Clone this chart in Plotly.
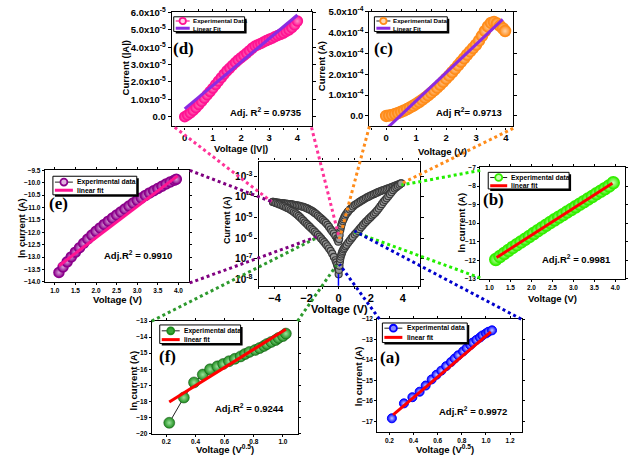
import plotly.graph_objects as go

W, H = 628, 461
SANS = "Liberation Sans, Arial, sans-serif"
SERIF = "Liberation Serif, Times New Roman, serif"

# ---------------- data ----------------
# (d) |I| vs |V|, linear scale
d_volt = [0.0, 0.1, 0.2, 0.3, 0.4, 0.5, 0.6, 0.7, 0.8, 0.9, 1.0, 1.1, 1.2, 1.3, 1.4, 1.5,
          1.6, 1.7, 1.8, 1.9, 2.0, 2.1, 2.2, 2.3, 2.4, 2.5, 2.6, 2.7, 2.8, 2.9, 3.0, 3.1,
          3.2, 3.3, 3.4, 3.5, 3.6, 3.7, 3.8, 3.9, 4.0]
d_curr_e5 = [0.00, 0.10, 0.22, 0.36, 0.52, 0.70, 0.88, 1.07, 1.26, 1.45, 1.64, 1.85, 2.05,
             2.25, 2.45, 2.64, 2.80, 2.96, 3.12, 3.27, 3.40, 3.53, 3.66, 3.80, 3.95, 4.07,
             4.14, 4.22, 4.30, 4.38, 4.45, 4.52, 4.60, 4.67, 4.74, 4.81, 4.90, 5.00, 5.12,
             5.28, 5.50]
d_fit_volt = [0.0, 4.0]
d_fit_e5 = [0.45, 5.85]

# (c) I vs V, linear scale
c_volt = [0.0, 0.1, 0.2, 0.3, 0.4, 0.5, 0.6, 0.7, 0.8, 0.9, 1.0, 1.1, 1.2, 1.3, 1.4, 1.5,
          1.6, 1.7, 1.8, 1.9, 2.0, 2.1, 2.2, 2.3, 2.4, 2.5, 2.6, 2.7, 2.8, 2.9, 3.0, 3.1,
          3.2, 3.3, 3.4, 3.5, 3.6, 3.7, 3.8, 3.9, 3.97]
c_curr_e4 = [0.00, 0.02, 0.05, 0.09, 0.14, 0.20, 0.26, 0.33, 0.41, 0.49, 0.58, 0.67, 0.77,
             0.88, 0.99, 1.11, 1.23, 1.36, 1.50, 1.64, 1.79, 1.94, 2.10, 2.26, 2.43, 2.60,
             2.77, 2.94, 3.10, 3.26, 3.42, 3.62, 3.85, 4.08, 4.30, 4.47, 4.52, 4.44, 4.33,
             4.20, 4.08]
c_fit_volt = [0.06, 3.89]
c_fit_e4 = [-0.55, 4.64]

# (e) ln I vs V
e_volt = [1.1, 1.2, 1.3, 1.4, 1.5, 1.6, 1.7, 1.8, 1.9, 2.0, 2.1, 2.2, 2.3, 2.4, 2.5, 2.6,
          2.7, 2.8, 2.9, 3.0, 3.1, 3.2, 3.3, 3.4, 3.5, 3.6, 3.7, 3.8, 3.9, 3.95]
e_lnI = [-13.62, -13.40, -13.19, -12.99, -12.80, -12.62, -12.44, -12.27, -12.11, -11.96,
         -11.82, -11.68, -11.55, -11.42, -11.30, -11.18, -11.06, -10.94, -10.82, -10.71,
         -10.61, -10.51, -10.41, -10.32, -10.23, -10.14, -10.05, -9.97, -9.90, -9.86]
e_fit_volt = [1.1, 3.98]
e_fit_lnI = [-13.35, -9.72]

# (b) ln I vs V
b_volt = [1.15, 1.25, 1.35, 1.45, 1.55, 1.65, 1.75, 1.85, 1.95, 2.05, 2.15, 2.25, 2.35,
          2.45, 2.55, 2.65, 2.75, 2.85, 2.95, 3.05, 3.15, 3.25, 3.35, 3.45, 3.55, 3.65,
          3.75, 3.85, 3.95]
b_lnI = [-11.95, -11.79, -11.63, -11.47, -11.31, -11.16, -11.01, -10.86, -10.71, -10.56,
         -10.41, -10.26, -10.11, -9.96, -9.82, -9.68, -9.54, -9.40, -9.26, -9.12, -8.98,
         -8.84, -8.70, -8.56, -8.42, -8.28, -8.14, -8.00, -7.82]
b_fit_volt = [1.17, 3.93]
b_fit_lnI = [-11.85, -7.85]

# (f) ln I vs V^0.5
f_sqrtv = [0.22, 0.32, 0.39, 0.45, 0.50, 0.55, 0.59, 0.63, 0.67, 0.71, 0.74, 0.77, 0.81,
           0.84, 0.87, 0.89, 0.92, 0.95, 0.97, 1.00, 1.02]
f_lnI = [-19.33, -17.76, -16.82, -16.33, -16.00, -15.82, -15.67, -15.50, -15.35, -15.20,
         -15.05, -14.92, -14.80, -14.68, -14.55, -14.43, -14.30, -14.18, -14.05, -13.93,
         -13.78]
f_fit_sqrtv = [0.22, 1.02]
f_fit_lnI = [-18.04, -13.51]

# (a) ln I vs V^0.5
a_sqrtv = [0.22, 0.32, 0.39, 0.45, 0.50, 0.55, 0.59, 0.63, 0.67, 0.71, 0.74, 0.77, 0.81,
           0.84, 0.87, 0.89, 0.92, 0.95, 0.97, 1.00, 1.02, 1.05]
a_lnI = [-16.85, -16.12, -15.82, -15.55, -15.25, -14.95, -14.72, -14.52, -14.30, -14.10,
         -13.93, -13.77, -13.58, -13.42, -13.27, -13.15, -13.02, -12.90, -12.80, -12.70,
         -12.62, -12.55]
a_fit_sqrtv = [0.23, 1.04]
a_fit_lnI = [-16.68, -12.63]

# main I-V hysteresis loop, four sweep branches (log10 of current)
ul_volt = [-4.1, -4.0, -3.9, -3.8, -3.7, -3.6, -3.5, -3.4, -3.3, -3.2, -3.1, -3.0, -2.9,
           -2.8, -2.7, -2.6, -2.5, -2.4, -2.3, -2.2, -2.1, -2.0, -1.9, -1.8, -1.7, -1.6,
           -1.5, -1.4, -1.3, -1.2, -1.1, -1.0, -0.9, -0.8, -0.7, -0.6, -0.5, -0.4, -0.3,
           -0.2, -0.1, -0.05, -0.02]
ul_log = [-4.25, -4.26, -4.27, -4.28, -4.29, -4.30, -4.31, -4.32, -4.33, -4.34, -4.35,
          -4.36, -4.37, -4.385, -4.40, -4.415, -4.43, -4.45, -4.47, -4.49, -4.52, -4.55,
          -4.59, -4.63, -4.67, -4.72, -4.78, -4.84, -4.91, -4.98, -5.05, -5.12, -5.19,
          -5.27, -5.36, -5.46, -5.58, -5.68, -5.78, -5.90, -6.03, -6.10, -6.18]
ll_volt = [-4.1, -4.0, -3.9, -3.8, -3.7, -3.6, -3.5, -3.4, -3.3, -3.2, -3.1, -3.0, -2.9,
           -2.8, -2.7, -2.6, -2.5, -2.4, -2.3, -2.2, -2.1, -2.0, -1.9, -1.8, -1.7, -1.6,
           -1.5, -1.4, -1.3, -1.2, -1.1, -1.0, -0.9, -0.8, -0.7, -0.6, -0.5, -0.4, -0.3,
           -0.2, -0.15, -0.1, -0.05, -0.02, 0.0]
ll_log = [-4.25, -4.28, -4.31, -4.34, -4.37, -4.40, -4.44, -4.47, -4.51, -4.54, -4.58,
          -4.63, -4.68, -4.74, -4.80, -4.86, -4.93, -5.00, -5.08, -5.16, -5.24, -5.31,
          -5.39, -5.46, -5.54, -5.61, -5.69, -5.77, -5.85, -5.93, -6.02, -6.11, -6.20,
          -6.30, -6.40, -6.51, -6.62, -6.76, -6.92, -7.08, -7.18, -7.30, -7.42, -7.55,
          -7.76]
ur_volt = [0.03, 0.06, 0.1, 0.13, 0.16, 0.2, 0.25, 0.3, 0.35, 0.4, 0.47, 0.55, 0.6, 0.7,
           0.8, 0.9, 1.0, 1.1, 1.2, 1.3, 1.4, 1.5, 1.6, 1.7, 1.8, 1.9, 2.0, 2.1, 2.2, 2.3,
           2.4, 2.5, 2.6, 2.7, 2.8, 2.9, 3.0, 3.1, 3.2, 3.3, 3.4, 3.5, 3.6, 3.7, 3.8, 3.9]
ur_log = [-6.05, -5.85, -5.62, -5.50, -5.40, -5.29, -5.18, -5.09, -5.00, -4.92, -4.84,
          -4.76, -4.70, -4.62, -4.55, -4.47, -4.40, -4.35, -4.30, -4.25, -4.20, -4.15,
          -4.11, -4.06, -4.02, -3.98, -3.94, -3.90, -3.87, -3.83, -3.80, -3.76, -3.73,
          -3.70, -3.67, -3.645, -3.62, -3.59, -3.56, -3.53, -3.50, -3.47, -3.44, -3.41,
          -3.38, -3.35]
lr_volt = [0.02, 0.05, 0.08, 0.1, 0.13, 0.17, 0.21, 0.25, 0.3, 0.36, 0.43, 0.5, 0.6, 0.7,
           0.8, 0.88, 1.0, 1.1, 1.2, 1.3, 1.4, 1.5, 1.6, 1.7, 1.8, 1.9, 2.0, 2.1, 2.2, 2.3,
           2.4, 2.5, 2.6, 2.7, 2.8, 2.9, 3.0, 3.1, 3.2, 3.3, 3.4, 3.5, 3.6, 3.7, 3.8, 3.9]
lr_log = [-7.55, -7.35, -7.15, -7.02, -6.90, -6.80, -6.71, -6.63, -6.55, -6.48, -6.40,
          -6.33, -6.22, -6.12, -6.02, -5.94, -5.83, -5.75, -5.66, -5.57, -5.48, -5.39,
          -5.30, -5.22, -5.14, -5.06, -4.99, -4.91, -4.84, -4.76, -4.67, -4.57, -4.46,
          -4.36, -4.25, -4.16, -4.07, -3.97, -3.88, -3.78, -3.68, -3.60, -3.54, -3.47,
          -3.41, -3.35]

# ---------------- helpers ----------------
def px(x):
    return x / W


def py(y):
    return 1 - y / H


fig = go.Figure()


def add(ax, x, y, **kw):
    fig.add_trace(go.Scatter(x=x, y=y, xaxis="x" + ax, yaxis="y" + ax,
                             showlegend=False, hoverinfo="skip", **kw))


def frame(dom, rng, anchor, size, **kw):
    d = dict(domain=dom, range=rng, anchor=anchor, showline=True, linecolor="black",
             linewidth=1.3, mirror="ticks", ticks="outside", ticklen=3, tickwidth=1,
             tickcolor="black", showgrid=False, zeroline=False,
             tickfont=dict(family=SANS, size=size, color="black", weight="bold"))
    d.update(kw)
    return d


def xdom(x0, x1):
    return [px(x0), px(x1)]


def ydom(y0, y1):
    return [py(y1), py(y0)]


def ball(size, edge, centre, lw=1):
    return dict(symbol="circle", size=size, color=edge,
                gradient=dict(type="radial", color=centre),
                line=dict(width=lw, color=edge))


# ---------------- traces ----------------
PINK, VIOLET, ORANGE, PURPLE = "#FF1493", "#8A2BE2", "#FF8C1A", "#8B008B"
LIME, DKGREEN, BLUE, RED = "#33EE00", "#1E8C1E", "#0000FF", "#FF0000"

add("", d_volt, [v * 1e-5 for v in d_curr_e5], mode="markers",
    marker=ball(10, PINK, "#FF8CC6", 1.5))
add("", d_fit_volt, [v * 1e-5 for v in d_fit_e5], mode="lines",
    line=dict(color=VIOLET, width=3))

add("2", c_volt, [v * 1e-4 for v in c_curr_e4], mode="markers",
    marker=ball(11, ORANGE, "#FFD2A6", 1.5))
add("2", c_fit_volt, [v * 1e-4 for v in c_fit_e4], mode="lines",
    line=dict(color=VIOLET, width=3))

add("3", e_volt, e_lnI, mode="markers", marker=ball(10, PURPLE, "#D9A0D9", 1.5))
add("3", e_fit_volt, e_fit_lnI, mode="lines", line=dict(color=PINK, width=3))

for vs, lg in ((ul_volt, ul_log), (ll_volt, ll_log), (ur_volt, ur_log), (lr_volt, lr_log)):
    add("4", vs, [10 ** v for v in lg], mode="markers",
        marker=dict(symbol="circle", size=7, color="#9a9a9a",
                    line=dict(width=1.2, color="#3a3a3a")))

add("5", b_volt, b_lnI, mode="markers", marker=ball(12, LIME, "#CCFFB3", 1.5))
add("5", b_fit_volt, b_fit_lnI, mode="lines", line=dict(color=RED, width=3))

add("6", f_sqrtv, f_lnI, mode="lines+markers", line=dict(color="#222222", width=1),
    marker=dict(symbol="circle", size=11, color=DKGREEN,
                gradient=dict(type="radial", color="#9be39b"),
                line=dict(width=0.5, color="#0d4d0d")))
add("6", f_fit_sqrtv, f_fit_lnI, mode="lines", line=dict(color=RED, width=3))

add("7", a_sqrtv, a_lnI, mode="markers", marker=ball(9, BLUE, "#c8c8ff", 1))
add("7", a_fit_sqrtv, a_fit_lnI, mode="lines", line=dict(color=RED, width=3))

# ---------------- axes ----------------
def sup(m, e):
    return f"{m}x10<sup>{e}</sup>"


layout_axes = dict(
    xaxis=frame(xdom(172, 312), [-0.46, 4.5], "y", 9.5, dtick=1, tick0=0, ticklen=2,
                minor=dict(ticks="outside", ticklen=2, dtick=0.5, tickcolor="black")),
    yaxis=frame(ydom(5, 122), [-0.55e-5, 6.03e-5], "x", 9.5,
                tickvals=[0, 1e-5, 2e-5, 3e-5, 4e-5, 5e-5, 6e-5],
                ticktext=["0.0"] + [sup(f"{k}.0", -5) for k in range(1, 7)]),
    xaxis2=frame(xdom(370, 514), [-0.56, 4.24], "y2", 9.5, dtick=1, tick0=0, ticklen=2,
                 minor=dict(ticks="outside", ticklen=2, dtick=0.5, tickcolor="black")),
    yaxis2=frame(ydom(5, 122), [-0.5e-4, 5.0e-4], "x2", 9.5,
                 tickvals=[0, 1e-4, 2e-4, 3e-4, 4e-4, 5e-4],
                 ticktext=["0.0"] + [sup(f"{k}.0", -4) for k in range(1, 6)]),
    xaxis3=frame(xdom(45, 189), [0.76, 4.25], "y3", 6.5, dtick=0.5, tick0=1,
                 tickformat=".1f", ticklen=2),
    yaxis3=frame(ydom(167, 281), [-14.0, -9.5], "x3", 6.5, dtick=0.5, tick0=-14,
                 tickformat=".1f", ticklen=2),
    xaxis4=frame(xdom(259, 421), [-5, 5.1], "y4", 11, dtick=2, tick0=0, ticklen=2,
                 minor=dict(ticks="outside", ticklen=2, dtick=1, tickcolor="black")),
    yaxis4=frame(ydom(158, 285), [-8.32, -2.29], "x4", 10, type="log",
                 tickvals=[1e-8, 1e-7, 1e-6, 1e-5, 1e-4, 1e-3],
                 ticktext=[f"10<sup>{e}</sup>" for e in (-8, -7, -6, -5, -4, -3)]),
    xaxis5=frame(xdom(481, 626), [0.78, 4.23], "y5", 6.5, dtick=0.5, tick0=1,
                 tickformat=".1f", ticklen=2),
    yaxis5=frame(ydom(164, 278), [-13, -7], "x5", 6.5, dtick=1, tick0=-13, ticklen=2),
    xaxis6=frame(xdom(152, 298), [0.1, 1.1], "y6", 6.5, dtick=0.2, tick0=0.2,
                 tickformat=".1f", ticklen=2),
    yaxis6=frame(ydom(321, 436), [-20, -13], "x6", 6.5, dtick=1, tick0=-20, ticklen=2),
    xaxis7=frame(xdom(378, 523), [0.1, 1.3], "y7", 6.5, dtick=0.2, tick0=0.2,
                 tickformat=".1f", ticklen=2),
    yaxis7=frame(ydom(319, 434), [-17.5, -12], "x7", 6.5, dtick=1, tick0=-17, ticklen=2),
)

# ---------------- connector lines (dotted) ----------------
shapes = []


def seg(x0, y0, x1, y1, color, width=3, dash="dot"):
    shapes.append(dict(type="line", xref="paper", yref="paper", x0=px(x0), y0=py(y0),
                       x1=px(x1), y1=py(y1), layer="above",
                       line=dict(color=color, width=width, dash=dash)))


connectors = [
    (175, 123, 272, 199, "#FF3399"), (312, 123, 340, 237, "#FF3399"),
    (370, 122, 340, 237, "#FF8C1A"), (514, 124, 401, 181, "#FF8C1A"),
    (190, 167, 272, 199, "#800080"), (190, 282, 317, 235, "#800080"),
    (481, 167, 402, 182, "#22EE00"), (481, 277, 355, 230, "#22EE00"),
    (152, 321, 317, 236, "#2E9A2E"), (298, 321, 337, 264, "#2E9A2E"),
    (522, 319, 355, 229, "#0000CC"), (380, 319, 340, 263, "#0000CC"),
]
for x0, y0, x1, y1, col in connectors:
    seg(x0, y0, x1, y1, col)
seg(339, 273, 339, 285, "#0000FF", width=1.5, dash="solid")

# ---------------- legends ----------------
annotations = []


def txt(x, y, s, size, angle=0, family=SANS, xanchor="center", yanchor="middle"):
    annotations.append(dict(x=px(x), y=py(y), xref="paper", yref="paper", text=s,
                            showarrow=False, textangle=angle, xanchor=xanchor,
                            yanchor=yanchor,
                            font=dict(family=family, size=size, color="black")))


def legend(box, sx, tx, rows, fsize):
    x0, y0, x1, y1 = box
    shapes.append(dict(type="rect", xref="paper", yref="paper", x0=px(x0 + 2), x1=px(x1 + 2),
                       y0=py(y1 + 2), y1=py(y0 + 2), fillcolor="black", layer="above",
                       line=dict(width=0)))
    shapes.append(dict(type="rect", xref="paper", yref="paper", x0=px(x0), x1=px(x1),
                       y0=py(y1), y1=py(y0), fillcolor="white", layer="above",
                       line=dict(color="black", width=1)))
    for ry, label, lcol, lw, mk in rows:
        shapes.append(dict(type="line", xref="paper", yref="paper", x0=px(sx[0]),
                           x1=px(sx[1]), y0=py(ry), y1=py(ry), layer="above",
                           line=dict(color=lcol, width=lw)))
        if mk:
            fill, edge, r = mk
            cx = (sx[0] + sx[1]) / 2
            shapes.append(dict(type="circle", xref="paper", yref="paper",
                               x0=px(cx - r), x1=px(cx + r), y0=py(ry + r), y1=py(ry - r),
                               fillcolor=fill, layer="above",
                               line=dict(color=edge, width=1.8)))
        txt(tx, ry, f"<b>{label}</b>", fsize, xanchor="left")


legend((174, 10, 245, 25), (176, 190), 191,
       [(14.3, "Experimental Data", PINK, 1.2, ("#ffd0e8", PINK, 3.2)),
        (21.7, "Linear Fit", VIOLET, 3, None)], 6.2)
legend((375, 10, 448, 25), (377, 391), 392,
       [(14.3, "Experimental Data", "#222222", 1, ("#ffd9b0", ORANGE, 3.2)),
        (21.7, "Linear Fit", VIOLET, 3, None)], 6.2)
legend((53, 173, 137, 192), (55, 73), 75,
       [(179, "Experimental data", "#222222", 1, ("#e0b0e0", PURPLE, 3.5)),
        (187.3, "linear fit", PINK, 3, None)], 6.8)
legend((489, 169, 570, 186), (491, 508), 510,
       [(174.3, "Experimental data", "#222222", 1, ("#c8ffb0", LIME, 3.5)),
        (182.7, "linear fit", RED, 3, None)], 6.8)
legend((160, 325, 241, 344), (162, 180), 182,
       [(331, "Experimental data", "#222222", 1, ("#3aa83a", DKGREEN, 3.5)),
        (340, "linear fit", RED, 3, None)], 6.6)
legend((383, 323, 468, 343), (385, 403), 406,
       [(328.3, "Experimental data", "#222222", 1, ("#8888ff", BLUE, 3.5)),
        (337.7, "linear fit", RED, 3, None)], 6.7)

# ---------------- titles, panel labels, fit quality ----------------
txt(241, 145, "<b>Voltage (|V|)</b>", 9.5)
txt(126, 62, "<b>Current (|A|)</b>", 9.5, angle=-90)
txt(443, 148, "<b>Voltage (V)</b>", 9.5)
txt(322, 60, "<b>Current (A)</b>", 9.5, angle=-90)
txt(118, 299, "<b>Voltage (V)</b>", 9.5)
txt(21, 226, "<b>ln current (A)</b>", 9.5, angle=-90)
txt(553, 298, "<b>Voltage (V)</b>", 9.5)
txt(462, 220, "<b>ln current (A)</b>", 9.5, angle=-90)
txt(225, 452, "<b>Voltage (V<sup>0.5</sup>)</b>", 9.5)
txt(134, 382, "<b>ln current (A)</b>", 9.5, angle=-90)
txt(446, 452, "<b>Voltage (V<sup>0.5</sup>)</b>", 9.5)
txt(359, 377, "<b>ln current (A)</b>", 9.5, angle=-90)
txt(340, 309, "<b>Voltage (V)</b>", 11)
txt(228, 218, "<b>Current (A)</b>", 9, angle=-90)

for lab, x, y in (("(d)", 184, 42), ("(c)", 384, 42), ("(e)", 59, 201),
                  ("(b)", 494, 197), ("(f)", 168, 357), ("(a)", 391, 358)):
    txt(x, y, f"<b>{lab}</b>", 17, family=SERIF)

txt(266, 107, "<b>Adj. R<sup>2</sup> = 0.9735</b>", 9.5)
txt(470, 107, "<b>Adj R<sup>2</sup>= 0.9713</b>", 9.5)
txt(138, 253, "<b>Adj.R<sup>2</sup> = 0.9910</b>", 9.5)
txt(577, 258, "<b>Adj.R<sup>2</sup> = 0.9981</b>", 9.5)
txt(250, 410, "<b>Adj.R<sup>2</sup> = 0.9244</b>", 9.5)
txt(474, 413, "<b>Adj.R<sup>2</sup> = 0.9972</b>", 9.5)

fig.update_layout(
    width=W, height=H, autosize=False,
    margin=dict(l=0, r=0, t=0, b=0),
    paper_bgcolor="white", plot_bgcolor="white",
    showlegend=False,
    shapes=shapes, annotations=annotations,
    **layout_axes,
)

fig.write_html("out.html")
